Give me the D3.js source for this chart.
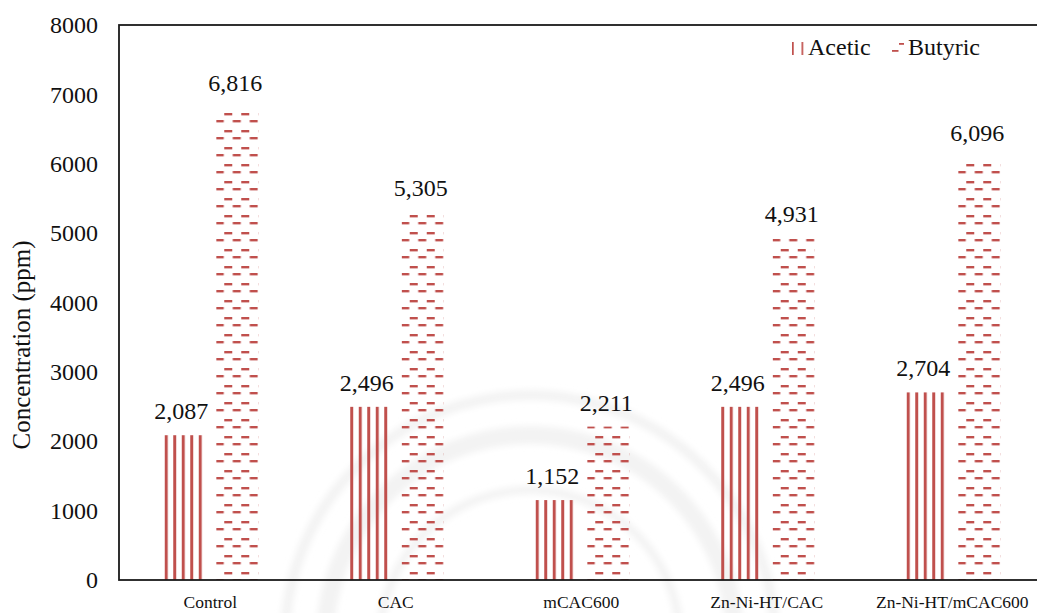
<!DOCTYPE html>
<html>
<head>
<meta charset="utf-8">
<script src="https://cdn.jsdelivr.net/npm/d3@7"></script>
<style>
  html, body { margin: 0; padding: 0; background: #fff; }
  svg { display: block; }
  svg text { font-family: "Liberation Serif", "DejaVu Serif", serif !important; fill: #111; }
</style>
</head>
<body>
<svg id="chart" width="1037" height="613"></svg>
<script>
// Volatile fatty acid concentrations per adsorbent treatment
const categories = ["Control", "CAC", "mCAC600", "Zn-Ni-HT/CAC", "Zn-Ni-HT/mCAC600"];
const seriesNames = ["Acetic", "Butyric"];
const acetic = [2087, 2496, 1152, 2496, 2704];
const butyric = [6816, 5305, 2211, 4931, 6096];
const yTicks = [0, 1000, 2000, 3000, 4000, 5000, 6000, 7000, 8000];

const seriesValues = { Acetic: acetic, Butyric: butyric };
const rows = categories.map((c, i) => ({
  category: c,
  values: seriesNames.map(s => ({ series: s, value: seriesValues[s][i] }))
}));

const RED = "#c0504d";
const SERIF = "'Liberation Serif', 'DejaVu Serif', serif";
const svg = d3.select("#chart");

const plot = { left: 119, top: 25, bottom: 580 };

const x0 = d3.scaleBand()
  .domain(categories)
  .range([117.5, 1045])
  .paddingInner(0.4825)
  .paddingOuter(0.24125);

const x1 = d3.scaleBand()
  .domain(seriesNames)
  .range([0, x0.bandwidth()])
  .paddingInner(0.2222);

const y = d3.scaleLinear()
  .domain([0, 8000])
  .range([plot.bottom, plot.top]);

const defs = svg.append("defs");

// Soft, faint background seal
defs.append("filter").attr("id", "soft")
  .append("feGaussianBlur").attr("stdDeviation", 3);
const seal = svg.append("g")
  .attr("fill", "none")
  .attr("stroke", "#f3f3f3")
  .attr("filter", "url(#soft)");
seal.append("circle").attr("cx", 530).attr("cy", 640).attr("r", 245).attr("stroke-width", 10);
seal.append("circle").attr("cx", 530).attr("cy", 640).attr("r", 205).attr("stroke-width", 18);
seal.append("circle").attr("cx", 530).attr("cy", 640).attr("r", 150).attr("stroke-width", 8);

// Fill patterns: vertical stripes for acetic, staggered dashes for butyric
const pA = defs.append("pattern")
  .attr("id", "pat-acetic")
  .attr("patternUnits", "userSpaceOnUse")
  .attr("x", 2.5).attr("y", 0)
  .attr("width", 8.5).attr("height", 10);
pA.append("rect").attr("x", 0).attr("y", 0).attr("width", 3).attr("height", 10).attr("fill", RED);

const pB = defs.append("pattern")
  .attr("id", "pat-butyric")
  .attr("patternUnits", "userSpaceOnUse")
  .attr("x", 11).attr("y", 572)
  .attr("width", 17).attr("height", 17);
pB.append("rect").attr("x", 0).attr("y", 0).attr("width", 8).attr("height", 2.4).attr("fill", RED);
pB.append("rect").attr("x", 8.5).attr("y", 7).attr("width", 8).attr("height", 2.4).attr("fill", RED);

const kA = defs.append("pattern")
  .attr("id", "key-acetic")
  .attr("patternUnits", "userSpaceOnUse")
  .attr("x", 792).attr("y", 0)
  .attr("width", 9.5).attr("height", 10);
kA.append("rect").attr("x", 0).attr("y", 0).attr("width", 1.7).attr("height", 10).attr("fill", RED);

const kB = defs.append("pattern")
  .attr("id", "key-butyric")
  .attr("patternUnits", "userSpaceOnUse")
  .attr("x", 892).attr("y", 43)
  .attr("width", 14).attr("height", 14);
kB.append("rect").attr("x", 7).attr("y", 0).attr("width", 6).attr("height", 1.8).attr("fill", RED);
kB.append("rect").attr("x", 0).attr("y", 7).attr("width", 6.5).attr("height", 1.8).attr("fill", RED);

const fillFor = { Acetic: "url(#pat-acetic)", Butyric: "url(#pat-butyric)" };

// Bars
const groups = svg.append("g")
  .selectAll("g")
  .data(rows)
  .join("g")
  .attr("transform", d => `translate(${x0(d.category)},0)`);

groups.selectAll("rect")
  .data(d => d.values)
  .join("rect")
  .attr("x", d => x1(d.series))
  .attr("y", d => y(d.value))
  .attr("width", x1.bandwidth())
  .attr("height", d => y(0) - y(d.value))
  .attr("fill", d => fillFor[d.series]);

// Value labels
const fmt = d3.format(",");
groups.selectAll("text.val")
  .data(d => d.values)
  .join("text")
  .attr("class", "val")
  .attr("x", d => x1(d.series) + x1.bandwidth() / 2 - 2)
  .attr("y", d => y(d.value) - 16)
  .attr("text-anchor", "middle")
  .attr("font-family", SERIF)
  .attr("font-size", 24)
  .text(d => fmt(d.value));

// Plot frame (left, top and bottom edges; right edge lies beyond the view)
svg.append("rect")
  .attr("x", plot.left)
  .attr("y", plot.top)
  .attr("width", 1000)
  .attr("height", plot.bottom - plot.top)
  .attr("fill", "none")
  .attr("stroke", "#1a1a1a")
  .attr("stroke-width", 1.8);

// Y axis
const yAxis = svg.append("g")
  .attr("transform", `translate(${plot.left},0)`)
  .call(d3.axisLeft(y).tickValues(yTicks).tickFormat(d3.format("d")).tickSize(0).tickPadding(21));
yAxis.attr("font-family", SERIF);
yAxis.select(".domain").remove();
yAxis.selectAll("text")
  .attr("font-size", 24)
  .attr("fill", "#111");

// X axis
const xAxis = svg.append("g")
  .attr("transform", `translate(0,${plot.bottom})`)
  .call(d3.axisBottom(x0).tickSize(0).tickPadding(16));
xAxis.attr("font-family", SERIF);
xAxis.select(".domain").remove();
xAxis.selectAll("text")
  .attr("font-size", 17.5)
  .attr("fill", "#111");

// Y axis title
svg.append("text")
  .attr("transform", "translate(30,345) rotate(-90)")
  .attr("text-anchor", "middle")
  .attr("font-family", SERIF)
  .attr("font-size", 25)
  .text("Concentration (ppm)");

// Legend
const legend = [
  { name: "Acetic", key: "url(#key-acetic)", kx: 791, tx: 808 },
  { name: "Butyric", key: "url(#key-butyric)", kx: 891, tx: 908 }
];
const lg = svg.append("g").selectAll("g").data(legend).join("g");
lg.append("rect")
  .attr("x", d => d.kx).attr("y", 42)
  .attr("width", 13).attr("height", 13)
  .attr("fill", d => d.key);
lg.append("text")
  .attr("x", d => d.tx).attr("y", 55)
  .attr("font-family", SERIF)
  .attr("font-size", 24)
  .text(d => d.name);
</script>
</body>
</html>
